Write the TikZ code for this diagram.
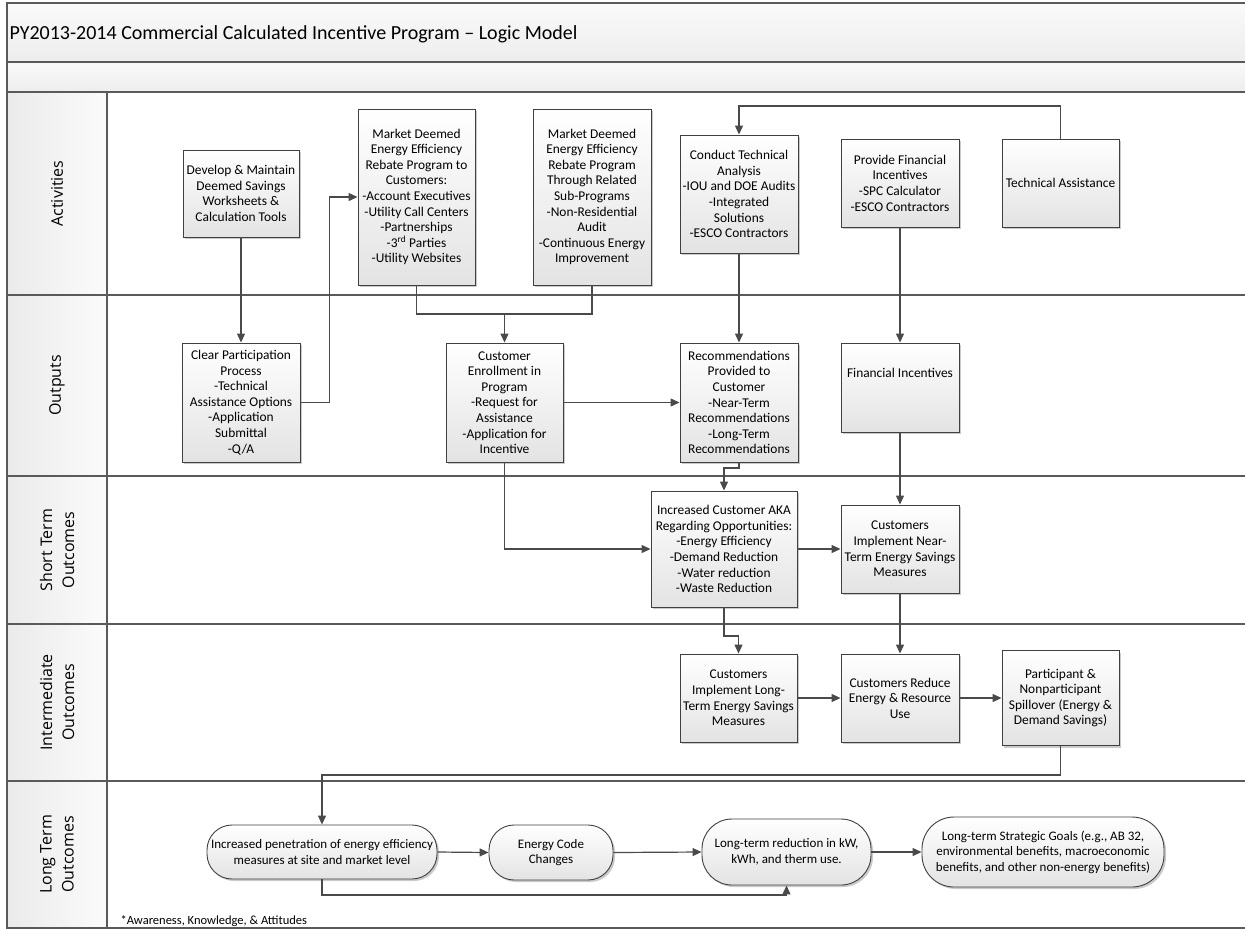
\documentclass[tikz,border=0pt]{standalone}
\usepackage{fontspec}
\setmainfont{Carlito}
\newfontfamily\lanefont{Open Sans}
\usetikzlibrary{arrows.meta,shadows}
\definecolor{edge}{HTML}{404040}
\definecolor{conn}{HTML}{4a4a4a}
\definecolor{frame}{HTML}{5a5a5a}
\begin{document}
\begin{tikzpicture}[x=1pt,y=-1pt,
  box/.style={draw=edge, line width=0.9pt, top color=white, bottom color=gray!22,
    drop shadow={shadow xshift=2pt,shadow yshift=-2pt,fill=gray!70,opacity=0.6},
    align=center, inner sep=1pt, font=\fontsize{13.4}{15.6}\selectfont},
  rbox/.style={box, rounded corners=#1pt, font=\fontsize{13}{15.4}\selectfont},
  wh/.style 2 args={minimum width=#1pt, minimum height=#2pt},
  arr/.style={draw=conn, line width=1.2pt, -{Triangle[length=9pt,width=8pt]}},
  ln/.style={draw=conn, line width=1.2pt},
  lane/.style={rotate=90, align=center, font=\lanefont\fontsize{16}{22}\selectfont},
  band/.style={draw=frame, line width=1.1pt, top color=gray!4, bottom color=gray!14},
  cell/.style={draw=frame, line width=1.1pt, left color=gray!16, right color=gray!3}
]
\useasboundingbox (0,0) rectangle (1245,930);

% header bands
\path[band] (7,3) rectangle (1250,62);
\path[band] (7,62) rectangle (1250,92);
\node[anchor=west, font=\fontsize{20}{24}\selectfont] (title) at (6,34)
  {PY2013-2014 Commercial Calculated Incentive Program – Logic Model};

% lanes
\draw[frame, line width=1.1pt] (7,92) rectangle (1250,928);
\foreach \yy in {295,476,624,781} {\draw[frame, line width=1.1pt] (7,\yy) -- (1250,\yy);}
\path[cell] (7,92) rectangle (107,295);
\path[cell] (7,295) rectangle (107,476);
\path[cell] (7,476) rectangle (107,624);
\path[cell] (7,624) rectangle (107,781);
\path[cell] (7,781) rectangle (107,928);
\node[lane] (l1) at (57,193.5) {Activities};
\node[lane] (l2) at (57,385.5) {Outputs};
\node[lane] (l3) at (57,550) {Short Term\\Outcomes};
\node[lane] (l4) at (57,702.5) {Intermediate\\Outcomes};
\node[lane] (l5) at (57,854.5) {Long Term\\Outcomes};

% activities
\node[box, wh={116}{87}] (dev) at (241,193.5)
  {Develop \& Maintain\\Deemed Savings\\Worksheets \&\\Calculation Tools};
\node[box, wh={117}{176}] (mkt1) at (416.5,197)
  {Market Deemed\\Energy Efficiency\\Rebate Program to\\Customers:\\-Account Executives\\-Utility Call Centers\\-Partnerships\\-3\textsuperscript{rd} Parties\\-Utility Websites};
\node[box, wh={118}{176}] (mkt2) at (592,197)
  {Market Deemed\\Energy Efficiency\\Rebate Program\\Through Related\\Sub-Programs\\-Non-Residential\\Audit\\-Continuous Energy\\Improvement};
\node[box, wh={118}{118}] (cta) at (739,194)
  {Conduct Technical\\Analysis\\-IOU and DOE Audits\\-Integrated\\Solutions\\-ESCO Contractors};
\node[box, wh={118}{88}] (pfi) at (900,183)
  {Provide Financial\\Incentives\\-SPC Calculator\\-ESCO Contractors};
\node[box, wh={117}{88}] (ta) at (1060.5,183) {Technical Assistance};

% outputs
\node[box, wh={118}{119}] (cpp) at (241,402.5)
  {Clear Participation\\Process\\-Technical\\Assistance Options\\-Application\\Submittal\\-Q/A};
\node[box, wh={117}{119}] (cep) at (504.5,402.5)
  {Customer\\Enrollment in\\Program\\-Request for\\Assistance\\-Application for\\Incentive};
\node[box, wh={118}{119}] (rec) at (739,402.5)
  {Recommendations\\Provided to\\Customer\\-Near-Term\\Recommendations\\-Long-Term\\Recommendations};
\node[box, wh={118}{89}] (fin) at (900,387.5) {Financial Incentives\\[14pt]};

% short term
\node[box, wh={146}{116}] (aka) at (724,549)
  {Increased Customer AKA\\Regarding Opportunities:\\-Energy Efficiency\\-Demand Reduction\\-Water reduction\\-Waste Reduction};
\node[box, wh={118}{88}] (near) at (900,549)
  {Customers\\Implement Near-\\Term Energy Savings\\Measures};

% intermediate
\node[box, wh={117}{88}] (ltm) at (738.5,698)
  {Customers\\Implement Long-\\Term Energy Savings\\Measures};
\node[box, wh={118}{88}] (red) at (900,698)
  {Customers Reduce\\Energy \& Resource\\Use};
\node[box, wh={117}{95}] (spill) at (1060.5,698)
  {Participant \&\\Nonparticipant\\Spillover (Energy \&\\Demand Savings)};

% long term
\node[rbox=25, wh={230}{54}] (inc) at (322,852)
  {Increased penetration of energy efficiency\\measures at site and market level};
\node[rbox=25, wh={124}{55}] (ecc) at (551,852.5) {Energy Code\\Changes};
\node[rbox=30, wh={169}{66}] (ltr) at (786.5,852)
  {Long-term reduction in kW,\\kWh, and therm use.};
\node[rbox=32, wh={242}{70}] (lsg) at (1043,852)
  {Long-term Strategic Goals (e.g., AB 32,\\environmental benefits, macroeconomic\\benefits, and other non-energy benefits)};

\node[anchor=west, font=\fontsize{12.5}{14}\selectfont] (note) at (117,921)
  {*Awareness, Knowledge, \& Attitudes};

% helper coordinates
\coordinate (ytop) at (0,106);
\coordinate (j) at (504.5,314);
\coordinate (j2) at (0,468);
\coordinate (j3) at (0,636);
\coordinate (j4) at (0,775);
\coordinate (j5) at (0,895);

% connectors
\draw[arr] (dev) -- (cpp);
\draw[arr] (cpp.east) -- ++(29,0) |- (mkt1.west);
\draw[ln] (mkt1.south) -- (mkt1.south |- j) -- (mkt2.south |- j) -- (mkt2.south);
\draw[arr] (j) -- (cep.north);
\draw[arr] (cta) -- (rec);
\draw[arr] (pfi) -- (fin);
\draw[arr] (ta.north) -- (ta.north |- ytop) -- (cta.north |- ytop) -- (cta.north);
\draw[arr] (cep.east) -- (rec.west);
\draw[arr] (cep.south) |- (aka.west);
\draw[arr] (rec.south) -- (rec.south |- j2) -- (aka.north |- j2) -- (aka.north);
\draw[arr] (aka.east) -- (near.west);
\draw[arr] (fin) -- (near);
\draw[arr] (aka.south) -- (aka.south |- j3) -- (ltm.north |- j3) -- (ltm.north);
\draw[arr] (near) -- (red);
\draw[arr] (ltm.east) -- (red.west);
\draw[arr] (red.east) -- (spill.west);
\draw[arr] (spill.south) -- (spill.south |- j4) -- (inc.north |- j4) -- (inc.north);
\draw[arr] (inc.east) -- (ecc.west);
\draw[arr] (ecc.east) -- (ltr.west);
\draw[arr] (ltr.east) -- (lsg.west);
\draw[arr] (inc.south) -- (inc.south |- j5) -- (ltr.south |- j5) -- (ltr.south);
\end{tikzpicture}
\end{document}
